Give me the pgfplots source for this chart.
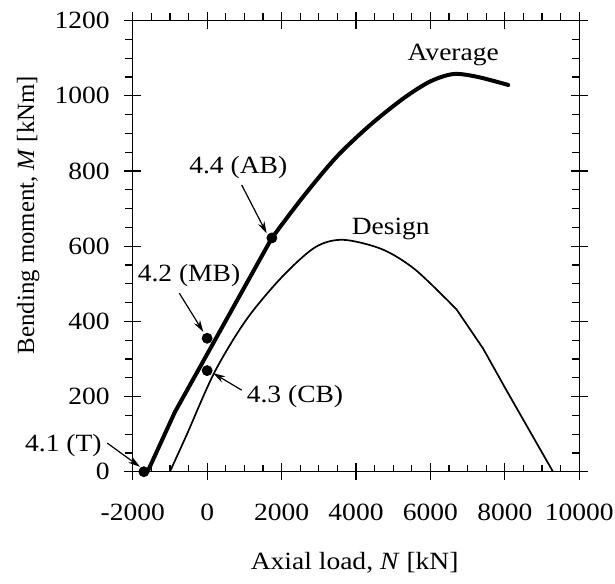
\documentclass[border=0pt]{standalone}
\usepackage{fontspec}
\setmainfont[FakeStretch=1.11]{Liberation Serif}
\newfontfamily\ylfont{Liberation Serif}
\usepackage{pgfplots}
\pgfplotsset{compat=1.18}
\usetikzlibrary{arrows.meta}
\begin{document}
\begin{tikzpicture}[font=\fontsize{12.4}{15}\selectfont]
\pgfplotsset{
  common/.style={
    scale only axis, width=223.3pt, height=225.5pt,
    at={(0,0)}, anchor=south west,
    xmin=-2000, xmax=10000, ymin=0, ymax=1200,
    xtick={-2000,0,2000,4000,6000,8000,10000},
    ytick={0,200,400,600,800,1000,1200},
    scaled x ticks=false, scaled y ticks=false,
    tick style={line width=0.6pt, black},
  }
}
% minor ticks: bottom and right, inward
\begin{axis}[common, name=main,
  minor x tick num=3, minor y tick num=3,
  tick align=inside, xtick pos=left, ytick pos=right,
  xticklabel pos=left, yticklabel pos=left,
  major tick length=0pt, minor tick length=3.6pt,
  xticklabels={-2000,0,2000,4000,6000,8000,10000},
  yticklabels={0,200,400,600,800,1000,1200},
  xticklabel style={anchor=base, inner sep=0pt, yshift=-24.2pt},
  yticklabel style={anchor=east, inner sep=0pt, xshift=-11.3pt},
  axis line style={line width=0.75pt},
  clip=false,
  xlabel={Axial load, \textit{N} [kN]},
  ylabel={\ylfont Bending moment, \textit{M} [kNm]},
  xlabel style={at={(rel axis cs:0.497,-0.201)}, anchor=center, inner sep=0pt},
  ylabel style={at={(rel axis cs:-0.234,0.569)}, anchor=center, inner sep=0pt},
]
% Average (thick)
\addplot[black, line width=2pt, line join=round, line cap=round] coordinates {
  (-1600,0) (-870,158) (1740,622)
};
\addplot[black, line width=2pt, line join=round, line cap=round, smooth, tension=0.5] coordinates {
  (1740,622) (2583,732) (3481,838) (4375,922) (5270,993) (5987,1038)
  (6613,1058) (7242,1051) (8091,1029)
};
% Design (thin)
\addplot[black, line width=0.85pt, line join=round, smooth, tension=0.5] coordinates {
  (-1000,0) (-550,98) (200,265) (1050,404) (2000,517) (2900,597) (3650,617)
  (4700,592) (5600,537) (6700,432)
};
\addplot[black, line width=0.85pt, line join=round] coordinates {
  (6700,432) (7413,328) (8040,217) (9293,0)
};
% test points
\addplot[only marks, mark=*, mark size=2.5pt, black] coordinates {
  (-1700,0) (0,355) (0,269) (1740,622)
};
% labels
\node[anchor=base] at (axis cs:6613,1094) {Average};
\node[anchor=base] at (axis cs:4934,632) {Design};
\node[anchor=base] at (axis cs:837,794) {4.4 (AB)};
\node[anchor=base] at (axis cs:-487,505) {4.2 (MB)};
\node[anchor=base] at (axis cs:2360,184) {4.3 (CB)};
\node[anchor=base] at (axis cs:-3864,53) {4.1 (T)};
% arrows
\draw[line width=0.6pt, -{Stealth[length=6pt,width=3.5pt]}] (axis cs:928,763) -- (axis cs:1600,634);
\draw[line width=0.6pt, -{Stealth[length=6pt,width=3.5pt]}] (axis cs:-748,475) -- (axis cs:-103,372);
\draw[line width=0.6pt, -{Stealth[length=6pt,width=3.5pt]}] (axis cs:928,217) -- (axis cs:165,262);
\draw[line width=0.6pt, -{Stealth[length=6pt,width=3.5pt]}] (axis cs:-2682,76) -- (axis cs:-1804,13);
\end{axis}
% minor ticks: top and left, outward
\begin{axis}[common,
  minor x tick num=3, minor y tick num=3,
  tick align=outside, xtick pos=right, ytick pos=left,
  major tick length=0pt, minor tick length=3.6pt,
  xticklabels={}, yticklabels={},
  axis line style={draw=none},
]
\end{axis}
% major ticks: centered, all sides
\begin{axis}[common,
  tick align=center, xtick pos=both, ytick pos=both,
  major tick length=8.2pt,
  xticklabels={}, yticklabels={},
  axis line style={draw=none},
]
\end{axis}
\pgfresetboundingbox
\path (main.south west) ++(-66.35pt,-55.65pt) rectangle ++(307.5pt,291.5pt);
\end{tikzpicture}
\end{document}
